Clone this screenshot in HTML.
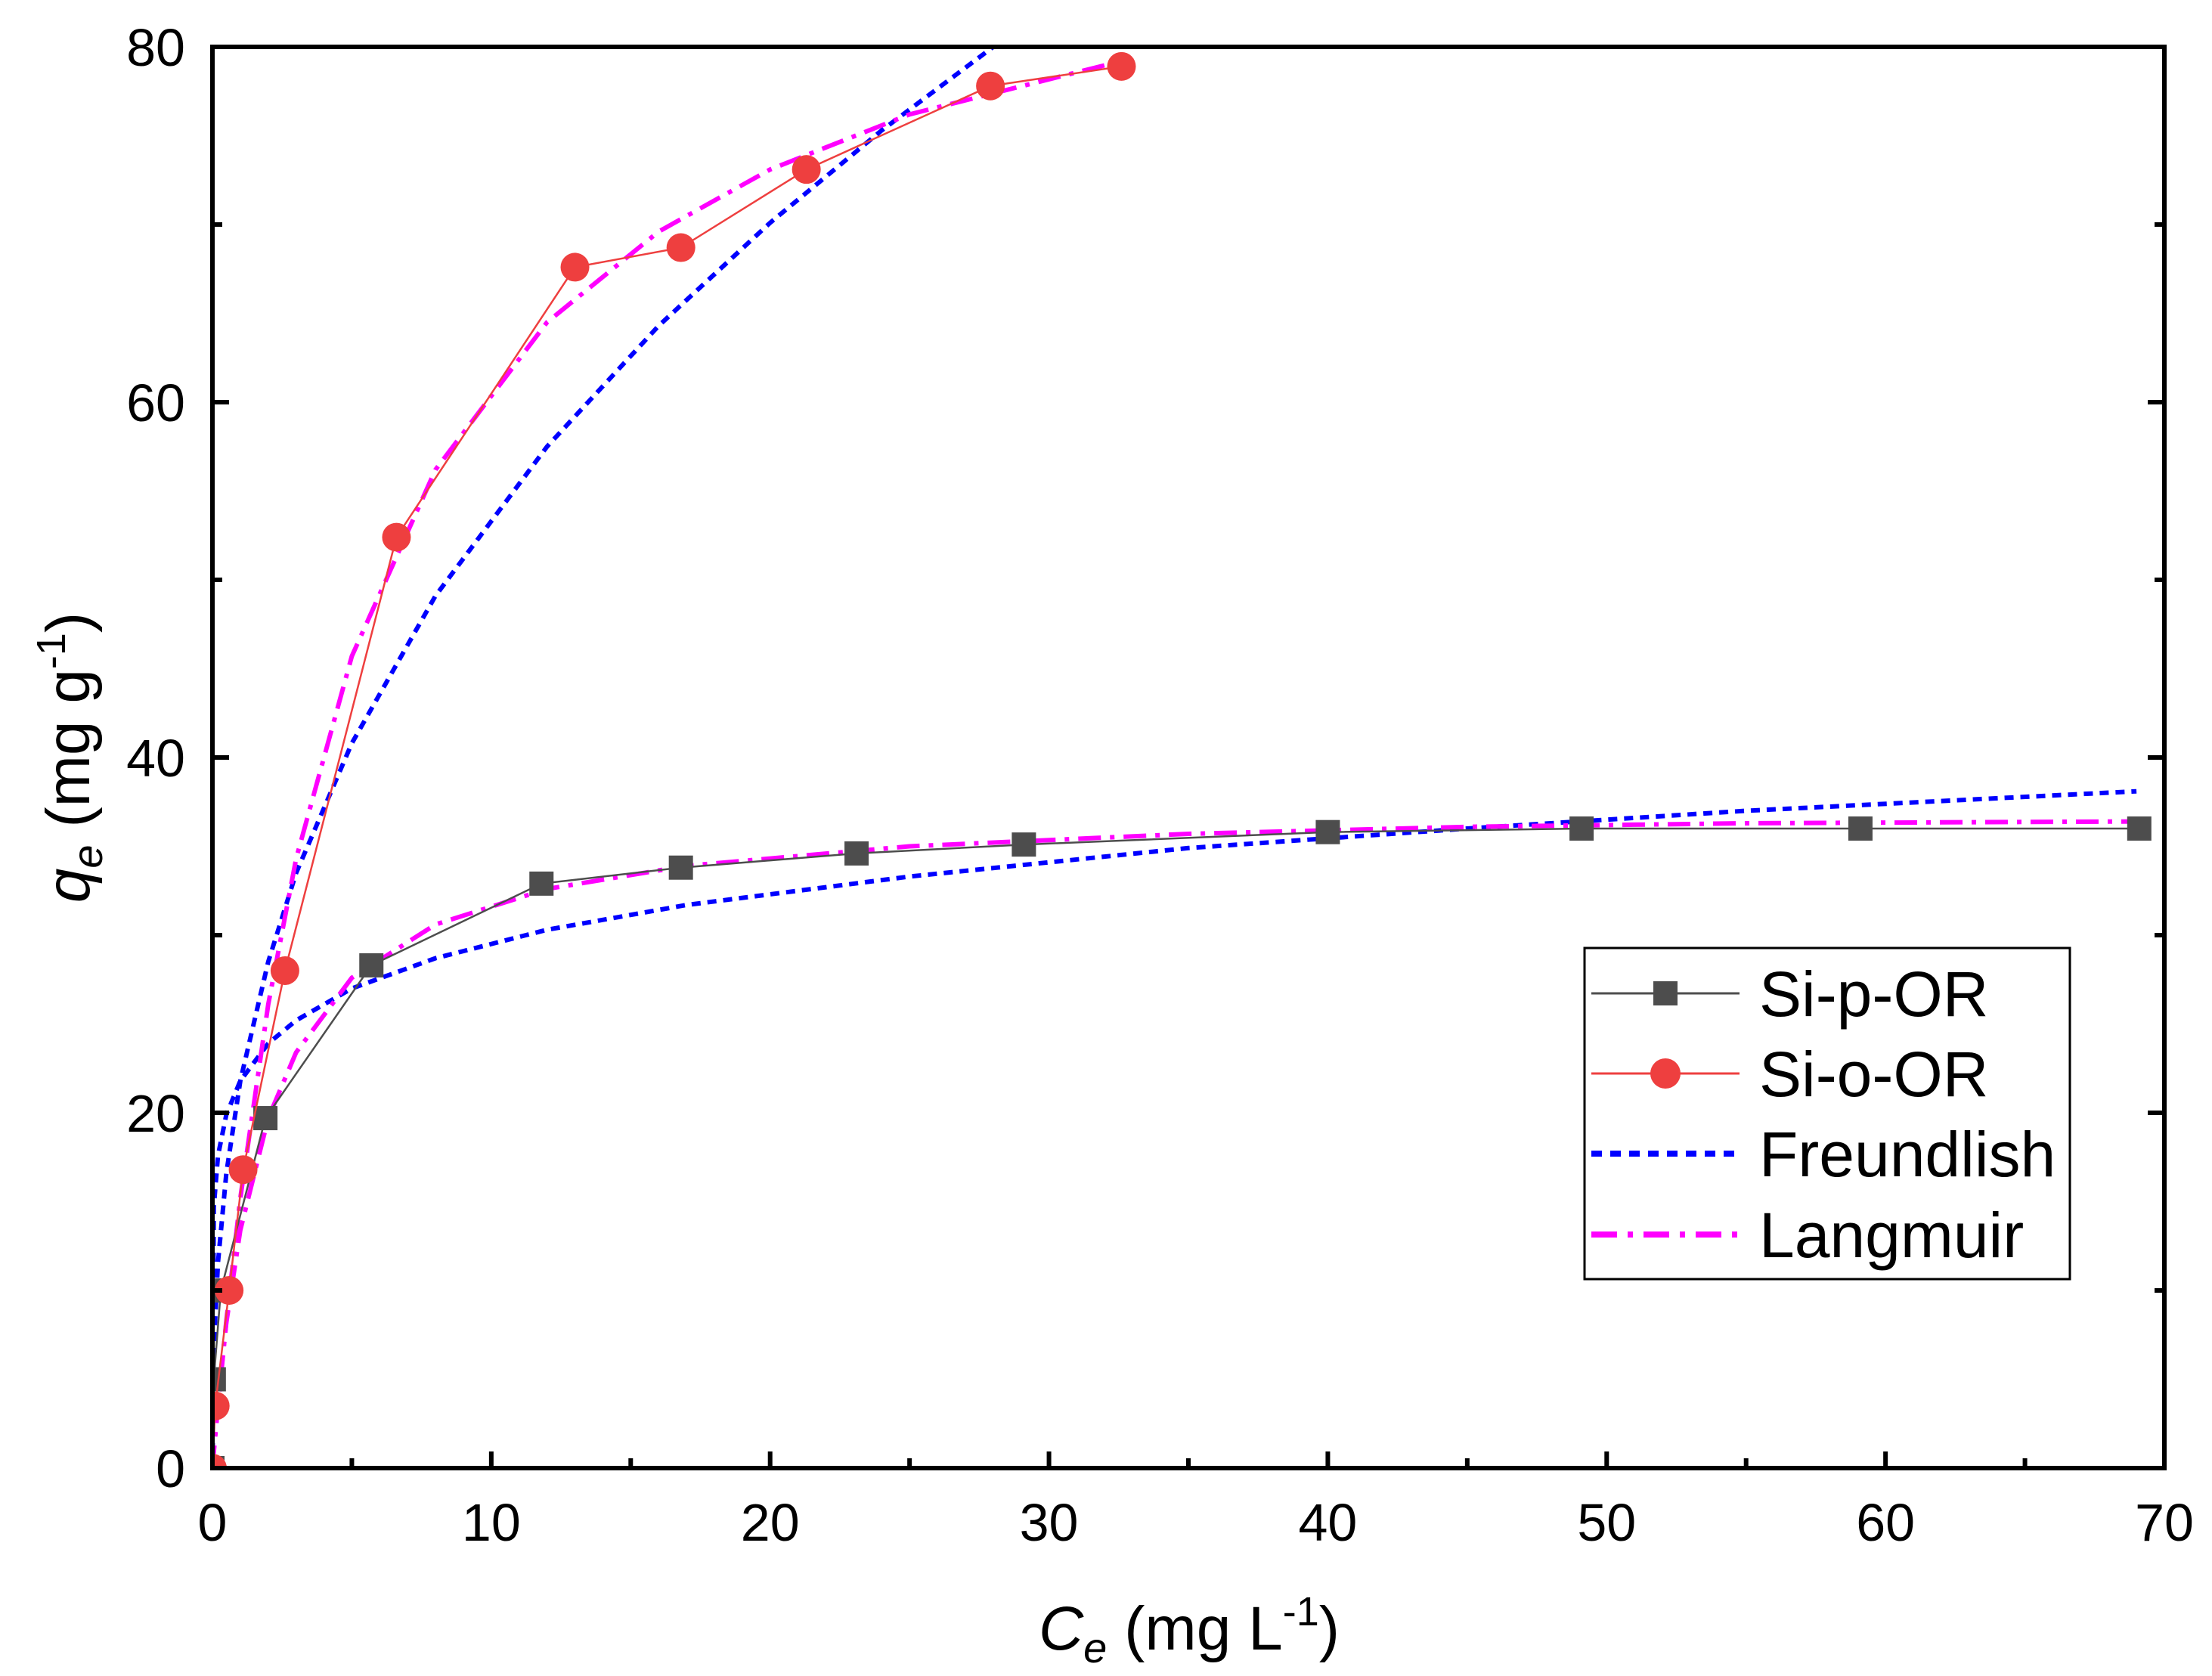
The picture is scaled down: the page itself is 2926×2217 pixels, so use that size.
<!DOCTYPE html>
<html><head><meta charset="utf-8"><style>
html,body{margin:0;padding:0;background:#fff}
svg{display:block;font-family:"Liberation Sans",Arial,sans-serif}
</style></head><body>
<svg id="chart" width="2926" height="2217" viewBox="0 0 2926 2217" xmlns="http://www.w3.org/2000/svg">
<rect width="2926" height="2217" fill="#fff"/>
<defs><clipPath id="plotclip"><rect x="281" y="62" width="2582" height="1880"/></clipPath></defs>
<g id="marks" clip-path="url(#plotclip)"></g>
<g id="axes"></g>
<text transform="translate(118,1002) rotate(-90)" text-anchor="middle" font-size="82"><tspan font-style="italic">q</tspan><tspan font-style="italic" font-size="56" dy="17">e</tspan><tspan dy="-17"> (mg g</tspan><tspan font-size="54" dy="-32">-1</tspan><tspan dy="32">)</tspan></text>
<text x="1573" y="2182" text-anchor="middle" font-size="82"><tspan font-style="italic">C</tspan><tspan font-style="italic" font-size="56" dy="17">e</tspan><tspan dy="-17"> (mg L</tspan><tspan font-size="54" dy="-32">-1</tspan><tspan dy="32">)</tspan></text>
<g>
<rect x="2096" y="1254" width="642" height="438" fill="#fff" stroke="#000" stroke-width="3"/>
<g>
<line x1="2105" y1="1314" x2="2301" y2="1314" stroke="#4d4d4d" stroke-width="3"/>
<rect x="2187" y="1298" width="32" height="32" fill="#4d4d4d"/>
<text x="2327" y="1344" font-size="84">Si-p-OR</text></g>
<g>
<line x1="2105" y1="1420" x2="2301" y2="1420" stroke="#ee3f3f" stroke-width="3"/>
<ellipse cx="2203" cy="1420" rx="20" ry="20" fill="#ee3f3f"/>
<text x="2327" y="1450" font-size="84">Si-o-OR</text></g>
<g>
<line x1="2105" y1="1526" x2="2301" y2="1526" stroke="#0000ff" stroke-width="8" stroke-dasharray="14,11"/>
<text x="2327" y="1556" font-size="84">Freundlish</text></g>
<g>
<line x1="2105" y1="1633" x2="2301" y2="1633" stroke="#ff00ff" stroke-width="8" stroke-dasharray="34,14,7,14"/>
<text x="2327" y="1663" font-size="84">Langmuir</text></g>
</g>
</svg>
<script>
const xTicks = [0,10,20,30,40,50,60,70];
const yTicks = [0,20,40,60,80];
const pX = [0,0.05,0.3,1.9,5.7,11.8,16.8,23.1,29.1,40,49.1,59.1,69.1];
const pY = [0,5,10,19.7,28.3,32.9,33.8,34.6,35.1,35.8,36,36,36];
const oX = [0,0.1,0.6,1.1,2.6,6.6,13,16.8,21.3,27.9,32.6];
const oY = [0,3.5,10,16.8,28,52.4,67.6,68.7,73.1,77.8,78.9];
const fpX = [0,0.05,0.2,0.5,1,2,3,5,8,12,17,25,35,45,55,69];
const fpY = [0,14.7,17.6,19.9,21.8,23.9,25.2,27,28.7,30.3,31.7,33.3,34.9,36.0,37.0,38.1];
const foX = [0,0.05,0.2,0.5,1,2,3,5,8,12,16,20,24,28];
const foY = [0,6.8,11.6,16.6,21.8,28.5,33.5,40.8,49.1,57.5,64.3,70.1,75.3,80.0];
const lpX = [0,0.05,0.2,0.5,1,2,3,5,8,12,17,25,35,45,55,69];
const lpY = [0,1.0,3.75,8.2,13.4,19.7,23.4,27.6,30.6,32.6,33.9,35.0,35.7,36.1,36.3,36.4];
const loX = [0,0.05,0.2,0.5,1,2,3,5,8,12,16,20,25,32.6];
const loY = [0,0.9,3.5,8.3,15.2,26.1,34.3,45.7,56.2,64.5,69.6,73.1,76.2,79.2];

const L=281,R=2863,T=62,B=1942;
function sx(v){return L+(v-0)/(70-0)*(R-L);}
function sy(v){return B-(v-0)/(80-0)*(B-T);}
const NS="http://www.w3.org/2000/svg";
const marks=document.getElementById('marks');
const axes=document.getElementById('axes');
function mk(tag,attrs,parent){const e=document.createElementNS(NS,tag);for(const k in attrs)e.setAttribute(k,attrs[k]);parent.appendChild(e);return e;}
function pts(xs,ys){return xs.map((x,i)=>sx(x).toFixed(1)+','+sy(ys[i]).toFixed(1)).join(' ');}

let e;
e=mk('polyline',{points:pts(fpX,fpY),fill:'none',stroke:'#0000ff','stroke-width':6,'stroke-dasharray':'12,9'},marks);


e=mk('polyline',{points:pts(foX,foY),fill:'none',stroke:'#0000ff','stroke-width':6,'stroke-dasharray':'12,9'},marks);


e=mk('polyline',{points:pts(lpX,lpY),fill:'none',stroke:'#ff00ff','stroke-width':6,'stroke-dasharray':'30,12,6,12'},marks);


e=mk('polyline',{points:pts(loX,loY),fill:'none',stroke:'#ff00ff','stroke-width':6,'stroke-dasharray':'30,12,6,12'},marks);



e=mk('polyline',{points:pts(pX,pY),fill:'none',stroke:'#4d4d4d','stroke-width':2.5},marks);


pX.forEach((x,i)=>{const r=mk('rect',{x:sx(x)-16,y:sy(pY[i])-16,width:32,height:32,fill:'#4d4d4d'},marks);

});
e=mk('polyline',{points:pts(oX,oY),fill:'none',stroke:'#ee3f3f','stroke-width':2.5},marks);


oX.forEach((x,i)=>{const c=mk('circle',{cx:sx(x),cy:sy(oY[i]),r:19,fill:'#ee3f3f'},marks);

});

e=mk('rect',{x:L,y:T,width:R-L,height:B-T,fill:'none',stroke:'#000','stroke-width':6},axes);


for(let v=0;v<=70;v+=5){const maj=v%10===0;const x=sx(v);
 mk('line',{x1:x,y1:B,x2:x,y2:B-(maj?22:13),stroke:'#000','stroke-width':6},axes);}
xTicks.forEach(v=>{const t=mk('text',{x:sx(v),y:2038,'text-anchor':'middle','font-size':70},axes);t.textContent=v;

});
for(let v=0;v<=80;v+=10){const maj=v%20===0;const y=sy(v);
 mk('line',{x1:L,y1:y,x2:L+(maj?22:13),y2:y,stroke:'#000','stroke-width':6},axes);
 mk('line',{x1:R,y1:y,x2:R-(maj?22:13),y2:y,stroke:'#000','stroke-width':6},axes);}
yTicks.forEach(v=>{const t=mk('text',{x:245,y:sy(v)+25,'text-anchor':'end','font-size':70},axes);t.textContent=v;

});
</script>
</body></html>
